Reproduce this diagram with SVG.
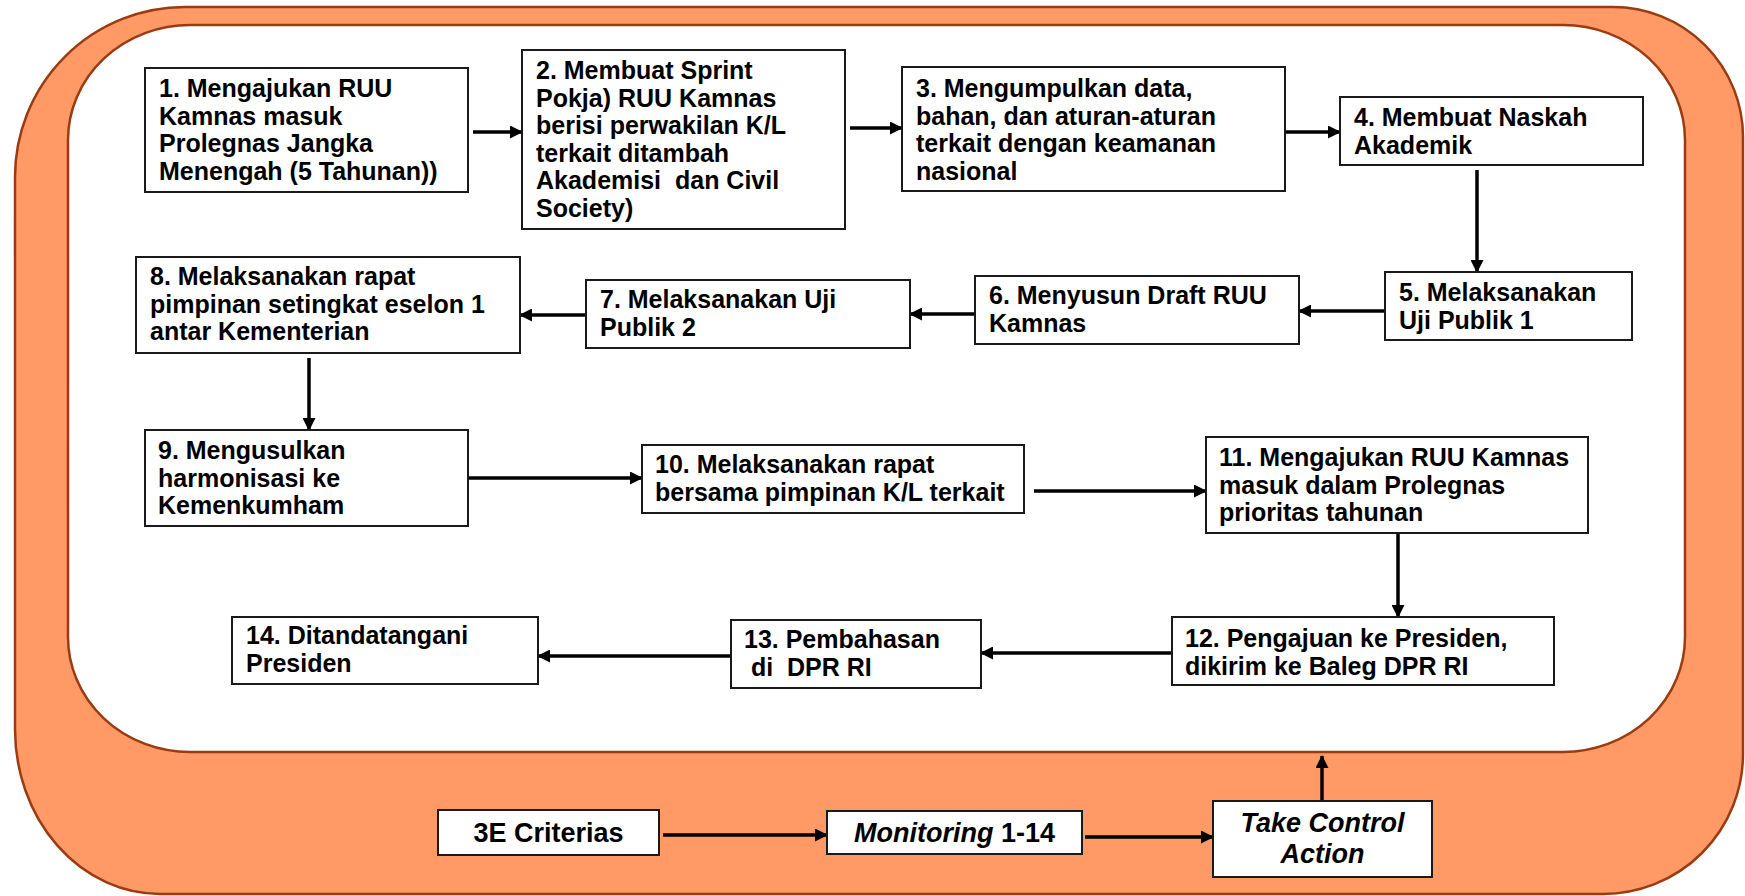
<svg xmlns="http://www.w3.org/2000/svg" width="1745" height="896" viewBox="0 0 1745 896">
<defs>
<style>
.band{fill:#FF9966;stroke:#9A3B12;stroke-width:2.5}
.inner{fill:#FFFFFF;stroke:#9A3B12;stroke-width:2.5}
.box{fill:#FFFFFF;stroke:#1A1A1A;stroke-width:2}
.t{font-family:"Liberation Sans",Arial,Helvetica,sans-serif;font-weight:bold;font-size:25px;fill:#000}
.b{font-family:"Liberation Sans",Arial,Helvetica,sans-serif;font-weight:bold;font-size:27px;fill:#000}
.i{font-style:italic}
.c{stroke:#000;stroke-width:3.5;fill:none;marker-end:url(#ah)}
</style>
<marker id="ah" markerUnits="userSpaceOnUse" markerWidth="13" markerHeight="13" refX="12" refY="6.5" orient="auto">
<path d="M0,0 L13,6.5 L0,13 Z" fill="#000"/>
</marker>
</defs>
<g id="frame">
<path class="band" d="M185,7 H1613 A130 130 0 0 1 1743 137 V754 A140 140 0 0 1 1603 894 H160 A145 165 0 0 1 15 729 V177 A170 170 0 0 1 185 7 Z"/>
<rect class="inner" x="68" y="25" width="1617" height="727" rx="122" ry="115"/>
</g>
<g id="connectors">
<line class="c" x1="473" y1="132" x2="522" y2="132"/>
<line class="c" x1="850" y1="128" x2="902" y2="128"/>
<line class="c" x1="1285" y1="132" x2="1340" y2="132"/>
<line class="c" x1="1477" y1="170" x2="1477" y2="272"/>
<line class="c" x1="1385" y1="311" x2="1299" y2="311"/>
<line class="c" x1="975" y1="314" x2="910" y2="314"/>
<line class="c" x1="586" y1="315" x2="520" y2="315"/>
<line class="c" x1="309" y1="358" x2="309" y2="430"/>
<line class="c" x1="468" y1="478" x2="642" y2="478"/>
<line class="c" x1="1034" y1="491" x2="1206" y2="491"/>
<line class="c" x1="1398" y1="533" x2="1398" y2="617"/>
<line class="c" x1="1172" y1="653" x2="981" y2="653"/>
<line class="c" x1="732" y1="656" x2="538" y2="656"/>
<line class="c" x1="663" y1="835" x2="827" y2="835"/>
<line class="c" x1="1085" y1="837" x2="1213" y2="837"/>
<line class="c" x1="1322" y1="801" x2="1322" y2="756"/>
</g>
<g id="n1"><rect class="box" x="145" y="68" width="323" height="124"/>
<text class="t" x="159" y="97"><tspan x="159">1. Mengajukan RUU</tspan><tspan x="159" dy="27.6">Kamnas masuk</tspan><tspan x="159" dy="27.6">Prolegnas Jangka</tspan><tspan x="159" dy="27.6">Menengah (5 Tahunan))</tspan></text></g>
<g id="n2"><rect class="box" x="522" y="50" width="323" height="179"/>
<text class="t" x="536" y="79"><tspan x="536">2. Membuat Sprint</tspan><tspan x="536" dy="27.6">Pokja) RUU Kamnas</tspan><tspan x="536" dy="27.6">berisi perwakilan K/L</tspan><tspan x="536" dy="27.6">terkait ditambah</tspan><tspan x="536" dy="27.6" style="white-space:pre">Akademisi  dan Civil</tspan><tspan x="536" dy="27.6">Society)</tspan></text></g>
<g id="n3"><rect class="box" x="902" y="67" width="383" height="124"/>
<text class="t" x="916" y="97"><tspan x="916">3. Mengumpulkan data,</tspan><tspan x="916" dy="27.6">bahan, dan aturan-aturan</tspan><tspan x="916" dy="27.6">terkait dengan keamanan</tspan><tspan x="916" dy="27.6">nasional</tspan></text></g>
<g id="n4"><rect class="box" x="1340" y="97" width="303" height="68"/>
<text class="t" x="1354" y="126"><tspan x="1354">4. Membuat Naskah</tspan><tspan x="1354" dy="27.6">Akademik</tspan></text></g>
<g id="n5"><rect class="box" x="1385" y="272" width="247" height="68"/>
<text class="t" x="1399" y="301"><tspan x="1399">5. Melaksanakan</tspan><tspan x="1399" dy="27.6">Uji Publik 1</tspan></text></g>
<g id="n6"><rect class="box" x="975" y="276" width="324" height="68"/>
<text class="t" x="989" y="304"><tspan x="989">6. Menyusun Draft RUU</tspan><tspan x="989" dy="27.6">Kamnas</tspan></text></g>
<g id="n7"><rect class="box" x="586" y="280" width="324" height="68"/>
<text class="t" x="600" y="308"><tspan x="600">7. Melaksanakan Uji</tspan><tspan x="600" dy="27.6">Publik 2</tspan></text></g>
<g id="n8"><rect class="box" x="136" y="257" width="384" height="96"/>
<text class="t" x="150" y="285"><tspan x="150">8. Melaksanakan rapat</tspan><tspan x="150" dy="27.6">pimpinan setingkat eselon 1</tspan><tspan x="150" dy="27.6">antar Kementerian</tspan></text></g>
<g id="n9"><rect class="box" x="145" y="430" width="323" height="96"/>
<text class="t" x="158" y="459"><tspan x="158">9. Mengusulkan</tspan><tspan x="158" dy="27.6">harmonisasi ke</tspan><tspan x="158" dy="27.6">Kemenkumham</tspan></text></g>
<g id="n10"><rect class="box" x="642" y="445" width="382" height="68"/>
<text class="t" x="655" y="473"><tspan x="655">10. Melaksanakan rapat</tspan><tspan x="655" dy="27.6">bersama pimpinan K/L terkait</tspan></text></g>
<g id="n11"><rect class="box" x="1206" y="437" width="382" height="96"/>
<text class="t" x="1219" y="466"><tspan x="1219">11. Mengajukan RUU Kamnas</tspan><tspan x="1219" dy="27.6">masuk dalam Prolegnas</tspan><tspan x="1219" dy="27.6">prioritas tahunan</tspan></text></g>
<g id="n12"><rect class="box" x="1172" y="617" width="382" height="68"/>
<text class="t" x="1185" y="647"><tspan x="1185">12. Pengajuan ke Presiden,</tspan><tspan x="1185" dy="27.6">dikirim ke Baleg DPR RI</tspan></text></g>
<g id="n13"><rect class="box" x="731" y="620" width="250" height="68"/>
<text class="t" x="744" y="648" style="white-space:pre"><tspan x="744">13. Pembahasan</tspan><tspan x="744" dy="27.6"> di  DPR RI</tspan></text></g>
<g id="n14"><rect class="box" x="232" y="617" width="306" height="67"/>
<text class="t" x="246" y="644"><tspan x="246">14. Ditandatangani</tspan><tspan x="246" dy="27.6">Presiden</tspan></text></g>
<g id="n3e"><rect class="box" x="438" y="810" width="221" height="45"/>
<text class="b" x="548.5" y="842" text-anchor="middle">3E Criterias</text></g>
<g id="nmon"><rect class="box" x="827" y="811" width="255" height="43"/>
<text class="b" x="954.5" y="842" text-anchor="middle"><tspan class="i">Monitoring</tspan> 1-14</text></g>
<g id="ntca"><rect class="box" x="1213" y="801" width="219" height="76"/>
<text class="b i" x="1322.5" y="832" text-anchor="middle"><tspan x="1322.5">Take Control</tspan><tspan x="1322.5" dy="31">Action</tspan></text></g>
</svg>
